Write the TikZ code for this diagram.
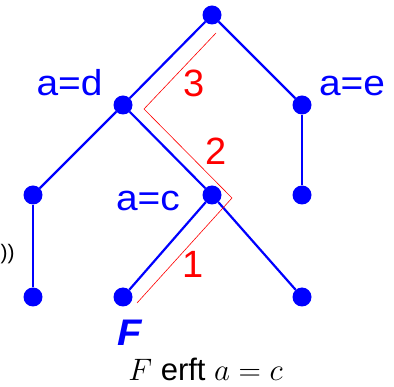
\RequirePackage{fix-cm}
\documentclass[tikz,border=0pt]{standalone}
\usepackage{fontspec}
\usepackage{tikz}
\usetikzlibrary{positioning}
\setmainfont{Liberation Sans}
\newfontfamily\labelfont[FakeStretch=1.08]{Liberation Sans}
\tikzset{
  treedot/.style={circle,fill=blue,inner sep=0pt,minimum size=19pt},
  treeedge/.style={draw=blue,line width=2.2pt},
  pathline/.style={draw=red,line width=0.6pt},
  varlabel/.style={text=blue,inner sep=0pt,anchor=base,font=\labelfont\fontsize{36}{36}\selectfont},
  steplabel/.style={text=red,inner sep=0pt,anchor=base,font=\fontsize{38}{38}\selectfont}
}

\begin{document}
\begin{tikzpicture}[x=1pt,y=-1pt]
  \useasboundingbox (0,0) rectangle (394,387);
  % tree nodes
  \node[treedot] (root) at (212,15) {};
  \node[treedot] (nd) at (123,105) {};
  \node[treedot] (ne) at (302,105) {};
  \node[treedot] (nl) at (33,195) {};
  \node[treedot] (nc) at (212,195) {};
  \node[treedot] (nr) at (302,195) {};
  \node[treedot] (la) at (33,297) {};
  \node[treedot] (lf) at (123,297) {};
  \node[treedot] (lr) at (302,297) {};
  % edges
  \draw[treeedge] (root) -- (nd);
  \draw[treeedge] (root) -- (ne);
  \draw[treeedge] (nd) -- (nl);
  \draw[treeedge] (nd) -- (nc);
  \draw[treeedge] (ne) -- (nr);
  \draw[treeedge] (nl) -- (la);
  \draw[treeedge] (nc) -- (lf);
  \draw[treeedge] (nc) -- (lr);
  % red path from F upwards
  \coordinate (p0) at (137,303);
  \coordinate (p1) at (232,198);
  \coordinate (p2) at (144,109);
  \coordinate (p3) at (216,33);
  \draw[pathline] (p0) -- (p1) -- (p2) -- (p3);
  \node[steplabel] (s1) at (193,278) {1};
  \node[steplabel] (s2) at (216,165) {2};
  \node[steplabel] (s3) at (194,97) {3};
  % labels
  \node[varlabel] (ld) at (69.5,96) {a=d};
  \node[varlabel] (le) at (352,96) {a=e};
  \node[varlabel] (lc) at (148,211) {a=c};
  \node[varlabel,font=\labelfont\fontsize{37}{37}\selectfont\bfseries\itshape] (fl) at (130,346) {F};
  \node[inner sep=0pt,anchor=base west,font=\fontsize{21}{21}\selectfont] (cut) at (0.5,260) {))};
  \node[inner sep=0pt,anchor=base,font=\fontsize{31}{31}\selectfont] (capt) at (205.5,381) {$F$ erft $a=c$};
\end{tikzpicture}
\end{document}
